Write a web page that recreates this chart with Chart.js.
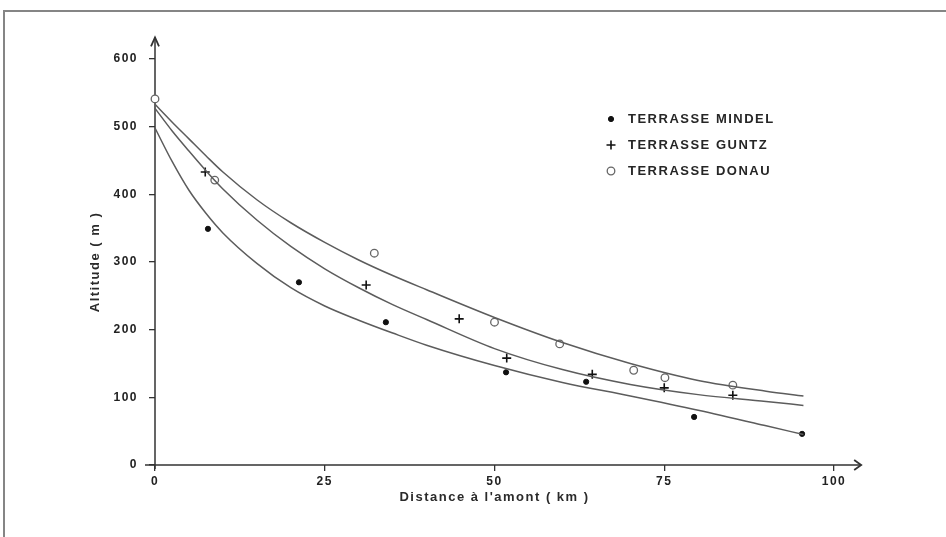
<!DOCTYPE html>
<html>
<head>
<meta charset="utf-8">
<script src="https://cdn.jsdelivr.net/npm/chart.js@4.4.0/dist/chart.umd.min.js"></script>
<style>
  html, body { margin: 0; padding: 0; background: #fff; }
</style>
</head>
<body>
<canvas id="terrasses" width="946" height="537"></canvas>
<script>
// fitted curves (km -> m)
const curveKm = [0, 2.5, 5, 7.5, 10, 15, 20, 25, 30, 35, 40, 50, 60, 70, 80, 90, 95.5]
const mindelFit = [498, 449, 406, 372, 343, 298, 262, 235, 214, 195, 177, 147, 122, 102, 81, 58, 45]
const guntzFit = [527, 494, 464, 435, 408, 362, 323, 290, 262, 237, 215, 172, 141, 119, 104, 94, 88]
const donauFit = [533, 507, 482, 457, 433, 392, 358, 329, 303, 280, 259, 218, 181, 150, 125, 109, 102]

// measured terraces
const mindelKm = [7.8, 21.2, 34, 51.7, 63.5, 79.4, 95.3]
const mindelAlt = [349, 270, 211, 137, 123, 71, 46]
const guntzKm = [7.4, 31.1, 44.8, 51.8, 64.4, 75, 85.1]
const guntzAlt = [433, 266, 216, 158, 134, 114, 103]
const donauKm = [0, 8.8, 32.3, 50, 59.6, 70.5, 75.1, 85.1]
const donauAlt = [541, 421, 313, 211, 179, 140, 129, 118]

const seriesNames = ['TERRASSE MINDEL', 'TERRASSE GUNTZ', 'TERRASSE DONAU']
const xTicks = [0, 25, 50, 75, 100]
const yTicks = [0, 100, 200, 300, 400, 500, 600]

const pts = (xs, ys) => xs.map((x, i) => ({x: x, y: ys[i]}))
const tickFont = {family: 'Liberation Sans', size: 12, weight: 'bold'}
const titleFont = {family: 'Liberation Sans', size: 13, weight: 'bold'}

function curve(data) {
    return {
        type: 'line',
        data: pts(curveKm, data),
        borderColor: '#5c5c5c',
        borderWidth: 1.5,
        pointRadius: 0,
        cubicInterpolationMode: 'monotone',
        fill: false,
        clip: false
    }
}

// frame, axes with arrows, legend
const decor = {
    id: 'decor',
    beforeDraw(chart) {
        chart.ctx.letterSpacing = '1.5px'
    },
    beforeDatasetsDraw(chart) {
        let ctx = chart.ctx
        let x = chart.scales.x, y = chart.scales.y
        let x0 = x.getPixelForValue(0), y0 = y.getPixelForValue(0)
        let xEnd = x.getPixelForValue(104), yEnd = y.getPixelForValue(632)
        ctx.save()
        ctx.strokeStyle = '#858585'
        ctx.lineWidth = 2
        ctx.beginPath()
        ctx.moveTo(4, 537); ctx.lineTo(4, 11); ctx.lineTo(946, 11)
        ctx.stroke()

        ctx.strokeStyle = '#333'
        ctx.lineWidth = 1.5
        ctx.beginPath()
        ctx.moveTo(x0 - 10, y0); ctx.lineTo(xEnd, y0)
        ctx.moveTo(x0, y0 + 4); ctx.lineTo(x0, yEnd)
        ctx.stroke()
        ctx.lineWidth = 1.8
        ctx.beginPath()
        ctx.moveTo(xEnd - 7, y0 - 5); ctx.lineTo(xEnd, y0); ctx.lineTo(xEnd - 7, y0 + 5)
        ctx.moveTo(x0 - 4, yEnd + 9); ctx.lineTo(x0, yEnd); ctx.lineTo(x0 + 4, yEnd + 9)
        ctx.stroke()
        ctx.restore()
    },
    afterDraw(chart) {
        let ctx = chart.ctx
        ctx.save()
        ctx.font = 'bold 13px "Liberation Sans"'
        ctx.textBaseline = 'middle'
        seriesNames.forEach((name, i) => {
            let ds = chart.data.datasets[3 + i]
            let ly = 119 + i * 26
            ctx.fillStyle = ds.backgroundColor
            ctx.strokeStyle = ds.borderColor
            ctx.lineWidth = ds.borderWidth
            Chart.helpers.drawPoint(ctx, {pointStyle: ds.pointStyle, radius: ds.pointRadius, borderWidth: ds.borderWidth, rotation: 0}, 611, ly)
            ctx.fillStyle = '#262626'
            ctx.fillText(name, 628, ly)
        })
        ctx.restore()
    }
}

let ctx = document.querySelector('#terrasses').getContext('2d')

let terrasses_chart = new Chart(ctx, {
    type: 'scatter',
    data: {
        datasets: [
            curve(mindelFit),
            curve(guntzFit),
            curve(donauFit),
            {
                label: seriesNames[0],
                data: pts(mindelKm, mindelAlt),
                pointStyle: 'circle',
                pointRadius: 2.6,
                borderWidth: 1,
                backgroundColor: '#111',
                borderColor: '#111',
                clip: false
            },
            {
                label: seriesNames[1],
                data: pts(guntzKm, guntzAlt),
                pointStyle: 'cross',
                pointRadius: 4.5,
                borderWidth: 1.6,
                backgroundColor: '#111',
                borderColor: '#111',
                clip: false
            },
            {
                label: seriesNames[2],
                data: pts(donauKm, donauAlt),
                pointStyle: 'circle',
                pointRadius: 3.8,
                borderWidth: 1.3,
                backgroundColor: '#fff',
                borderColor: '#666',
                clip: false
            }
        ]
    },
    options: {
        responsive: false,
        animation: false,
        layout: {padding: {left: 88, top: 59, right: 112, bottom: 32}},
        plugins: {
            legend: {display: false},
            tooltip: {enabled: false}
        },
        scales: {
            x: {
                type: 'linear',
                min: 0,
                max: 100,
                afterBuildTicks: s => { s.ticks = xTicks.map(v => ({value: v})) },
                afterFit: s => { s.height = 40; s.paddingLeft = 0; s.paddingRight = 0 },
                ticks: {font: tickFont, color: '#222', padding: 3, maxRotation: 0},
                grid: {drawOnChartArea: false, drawTicks: true, tickLength: 6, color: '#333', lineWidth: 1.3},
                border: {display: false},
                title: {display: true, text: "Distance à l'amont ( km )", font: titleFont, color: '#2a2a2a', padding: 0}
            },
            y: {
                min: 0,
                max: 600,
                afterBuildTicks: s => { s.ticks = yTicks.map(v => ({value: v})) },
                afterFit: s => { s.width = 67; s.paddingTop = 0; s.paddingBottom = 0 },
                ticks: {font: tickFont, color: '#222', padding: 11},
                grid: {drawOnChartArea: false, drawTicks: true, tickLength: 6, color: '#333', lineWidth: 1.3},
                border: {display: false},
                title: {display: true, text: 'Altitude ( m )', font: titleFont, color: '#2a2a2a', padding: 0}
            }
        }
    },
    plugins: [decor]
})
</script>
</body>
</html>
